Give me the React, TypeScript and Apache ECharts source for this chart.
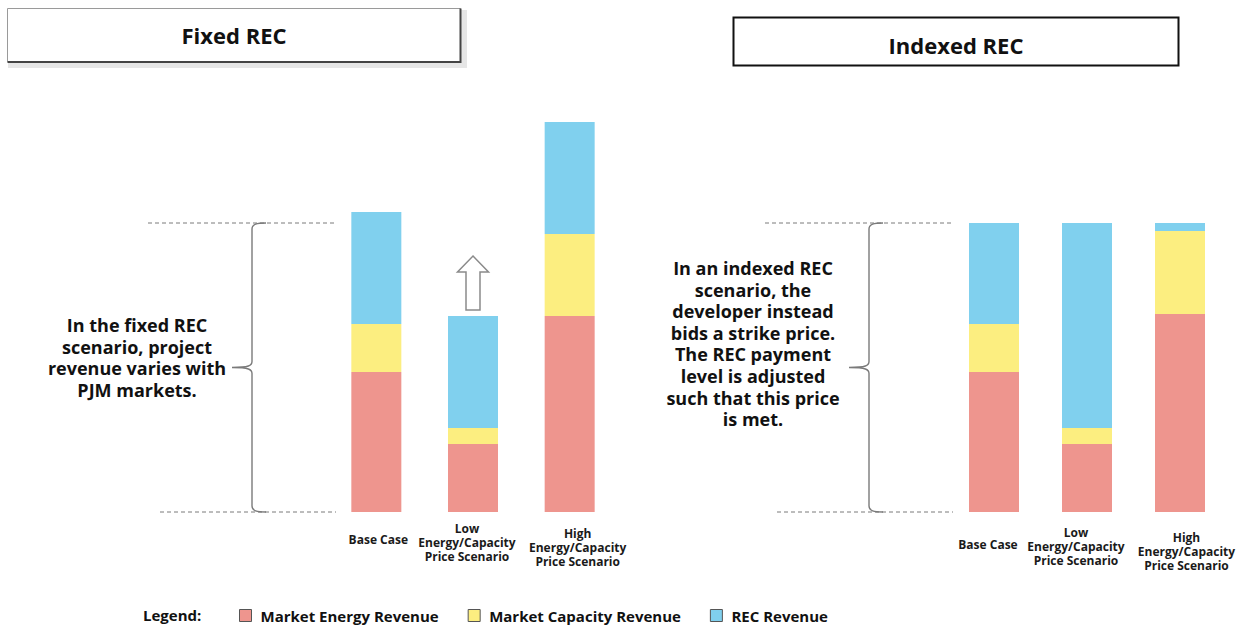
import React, { useEffect, useRef } from "react";
import * as echarts from "echarts";

// Scenario categories shared by both panels
const categories = [
  "Base Case",
  "Low\nEnergy/Capacity\nPrice Scenario",
  "High\nEnergy/Capacity\nPrice Scenario",
];
const seriesNames = ["Market Energy Revenue", "Market Capacity Revenue", "REC Revenue"];

// Fixed REC panel: revenue components per scenario
const fixedEnergy = [35, 17, 49];
const fixedCapacity = [12, 4, 20.5];
const fixedRec = [28, 28, 28];

// Indexed REC panel: REC payment fills the gap up to the strike price
const indexedEnergy = [35, 17, 49.5];
const indexedCapacity = [12, 4, 20.75];
const indexedRec = [25.25, 51.25, 2];

// Reference revenue level marked by the dashed guide lines
const strikeLevel = 72.25;

const panelTitles = ["Fixed REC", "Indexed REC"];
const panelNotes = [
  "In the fixed REC\nscenario, project\nrevenue varies with\nPJM markets.",
  "In an indexed REC\nscenario, the\ndeveloper instead\nbids a strike price.\nThe REC payment\nlevel is adjusted\nsuch that this price\nis met.",
];

const COLORS = ["#EE958E", "#FCEE80", "#80D0EE"];
const FONT = "'Open Sans', 'Noto Sans', sans-serif";

// Category label nudges per panel: [extra top offset, horizontal shift]
const labelNudgeLeft = [
  [11, 2],
  [0, -6],
  [5, 8],
];
const labelNudgeRight = [
  [12, -6],
  [0, -11],
  [5, 6.5],
];

function bracePath(h: number): string {
  const m = h / 2;
  return [
    `M34 0`,
    `C25 0 20 1 20 6`,
    `L20 ${m - 6}`,
    `C20 ${m - 2} 17 ${m} 0 ${m}`,
    `C17 ${m} 20 ${m + 2} 20 ${m + 6}`,
    `L20 ${h - 6}`,
    `C20 ${h - 1} 25 ${h} 34 ${h}`,
  ].join(" ");
}

export default function App() {
  const ref = useRef<HTMLDivElement>(null);

  useEffect(() => {
    if (!ref.current) return;
    const chart = echarts.init(ref.current, undefined, { renderer: "svg" });

    const xAxisFor = (gridIndex: number, margin: number, nudges: number[][]) => ({
      type: "category",
      gridIndex,
      data: categories.map((c, i) => {
        const [top, shift] = nudges[i];
        return {
          value: c,
          textStyle: {
            padding: [top, shift < 0 ? -2 * shift : 0, 0, shift > 0 ? 2 * shift : 0],
          },
        };
      }),
      axisLine: { show: false },
      axisTick: { show: false },
      axisLabel: {
        interval: 0,
        margin,
        fontFamily: FONT,
        fontWeight: "bold",
        fontSize: 12,
        lineHeight: 14,
        verticalAlign: "top",
        color: "#1a1a1a",
      },
    });

    const yAxisFor = (gridIndex: number) => ({
      type: "value",
      gridIndex,
      min: 0,
      max: 100,
      show: false,
    });

    const barSeries = (name: string, data: number[], idx: number, colorIdx: number) => ({
      type: "bar",
      name,
      xAxisIndex: idx,
      yAxisIndex: idx,
      stack: "panel" + idx,
      barWidth: 50,
      data,
      itemStyle: { color: COLORS[colorIdx] },
    });

    chart.setOption({
      animation: false,
      backgroundColor: "#ffffff",
      grid: [
        { left: 328, width: 290, top: 112, height: 400 },
        { left: 947.5, width: 279, top: 112, height: 400 },
      ],
      xAxis: [xAxisFor(0, 9, labelNudgeLeft), xAxisFor(1, 13, labelNudgeRight)],
      yAxis: [yAxisFor(0), yAxisFor(1)],
      legend: {
        left: 239,
        top: 608,
        padding: 0,
        icon: "rect",
        itemWidth: 12,
        itemHeight: 12,
        itemGap: 29,
        selectedMode: false,
        itemStyle: { borderColor: "#555", borderWidth: 1 },
        textStyle: {
          fontFamily: FONT,
          fontWeight: "bold",
          fontSize: 15,
          lineHeight: 15,
          color: "#111",
          padding: [0, 0, 0, 4],
        },
        data: seriesNames,
      },
      series: [
        barSeries(seriesNames[0], fixedEnergy, 0, 0),
        barSeries(seriesNames[1], fixedCapacity, 0, 1),
        barSeries(seriesNames[2], fixedRec, 0, 2),
        barSeries(seriesNames[0], indexedEnergy, 1, 0),
        barSeries(seriesNames[1], indexedCapacity, 1, 1),
        barSeries(seriesNames[2], indexedRec, 1, 2),
      ],
    });

    // Guide lines, braces and the arrow are placed from the axes' own scales
    const topY0 = chart.convertToPixel({ yAxisIndex: 0 }, strikeLevel) as number;
    const botY0 = chart.convertToPixel({ yAxisIndex: 0 }, 0) as number;
    const topY1 = chart.convertToPixel({ yAxisIndex: 1 }, strikeLevel) as number;
    const botY1 = chart.convertToPixel({ yAxisIndex: 1 }, 0) as number;

    const lowTop = chart.convertToPixel(
      { xAxisIndex: 0, yAxisIndex: 0 },
      [1, fixedEnergy[1] + fixedCapacity[1] + fixedRec[1]]
    ) as number[];

    echarts.graphic.registerShape(
      "braceLeft",
      echarts.graphic.extendPath(bracePath(botY0 - topY0), {})
    );
    echarts.graphic.registerShape(
      "braceRight",
      echarts.graphic.extendPath(bracePath(botY1 - topY1), {})
    );

    const dash = { stroke: "#7a7a7a", lineWidth: 1, lineDash: [4, 3] };
    const braceStyle = { stroke: "#7a7a7a", lineWidth: 1.4, fill: null };
    const boldText = (fontSize: number) => ({
      fontFamily: FONT,
      fontWeight: "bold",
      fontSize,
      fill: "#111",
    });

    const ax = lowTop[0];
    const ay = lowTop[1];

    chart.setOption({
      graphic: [
        // Panel title boxes
        { type: "rect", shape: { x: 8, y: 10, width: 459, height: 58 }, style: { fill: "#e6e6e6" }, silent: true },
        {
          type: "rect",
          shape: { x: 7.5, y: 8.5, width: 453, height: 53 },
          style: { fill: "#ffffff", stroke: "#9a9a9a", lineWidth: 1 },
          silent: true,
        },
        {
          type: "polyline",
          shape: { points: [[460.5, 8.5], [460.5, 62], [7.5, 62]] },
          style: { stroke: "#444", lineWidth: 2, fill: null },
          silent: true,
        },
        {
          type: "text",
          x: 234,
          y: 35,
          style: { text: panelTitles[0], ...boldText(22), textAlign: "center", textVerticalAlign: "middle" },
        },
        {
          type: "rect",
          shape: { x: 733.5, y: 17.5, width: 445, height: 48 },
          style: { fill: "#ffffff", stroke: "#111", lineWidth: 2 },
          silent: true,
        },
        {
          type: "text",
          x: 956,
          y: 45,
          style: { text: panelTitles[1], ...boldText(22), textAlign: "center", textVerticalAlign: "middle" },
        },

        // Dashed guide lines
        { type: "line", shape: { x1: 148, y1: topY0, x2: 336, y2: topY0 }, style: dash },
        { type: "line", shape: { x1: 160, y1: botY0, x2: 336, y2: botY0 }, style: dash },
        { type: "line", shape: { x1: 765, y1: topY1, x2: 953, y2: topY1 }, style: dash },
        { type: "line", shape: { x1: 777, y1: botY1, x2: 953, y2: botY1 }, style: dash },

        // Braces
        { type: "braceLeft", x: 232, y: topY0, style: braceStyle },
        { type: "braceRight", x: 849, y: topY1, style: braceStyle },

        // Explanatory notes
        {
          type: "text",
          x: 137,
          y: (topY0 + botY0) / 2 - 10,
          style: {
            text: panelNotes[0],
            ...boldText(18),
            lineHeight: 21.5,
            textAlign: "center",
            textVerticalAlign: "middle",
          },
        },
        {
          type: "text",
          x: 753,
          y: (topY1 + botY1) / 2 - 24,
          style: {
            text: panelNotes[1],
            ...boldText(18),
            lineHeight: 21.6,
            textAlign: "center",
            textVerticalAlign: "middle",
          },
        },

        // Upward arrow above the low scenario bar
        {
          type: "polygon",
          shape: {
            points: [
              [ax, ay - 60],
              [ax + 15.5, ay - 44],
              [ax + 7, ay - 44],
              [ax + 7, ay - 6],
              [ax - 7, ay - 6],
              [ax - 7, ay - 44],
              [ax - 15.5, ay - 44],
            ],
          },
          style: { fill: "#ffffff", stroke: "#8a8a8a", lineWidth: 1.5 },
        },

        // Legend caption
        {
          type: "text",
          x: 143,
          y: 615,
          style: { text: "Legend:", ...boldText(15), textVerticalAlign: "middle" },
        },
      ],
    });

    return () => chart.dispose();
  }, []);

  return (
    <div
      ref={ref}
      style={{ position: "absolute", left: 0, top: 0, width: 1245, height: 626, background: "#fff" }}
    />
  );
}
